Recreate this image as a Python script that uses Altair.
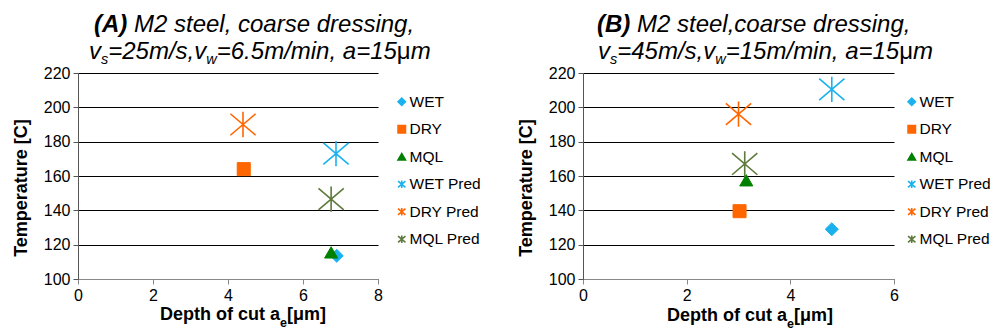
import altair as alt
import pandas as pd

FONT = "Liberation Sans"

SERIES = ["WET", "DRY", "MQL", "WET Pred", "DRY Pred", "MQL Pred"]
STROKES = ["#1AB2EE", "#FF6600", "#008000", "#1AB2EE", "#FF6600", "#5E7A3C"]
FILLS = ["#1AB2EE", "#FF6600", "#008000", "transparent", "transparent", "transparent"]
ASTER = "M0,-1L0,1M-1,-0.85L1,0.85M-1,0.85L1,-0.85"
SHAPES = ["diamond", "square", "triangle-up", ASTER, ASTER, ASTER]

# Panel A values
A_X = [6.9, 4.42, 6.75, 6.88, 4.4, 6.75]
A_Y = [113.5, 164, 115.5, 173, 190, 146.5]
# Panel B values
B_X = [4.8, 3.02, 3.15, 4.8, 3.0, 3.12]
B_Y = [129, 139.5, 157.5, 210.5, 196, 167]

A_XTICKS = [0, 2, 4, 6, 8]
B_XTICKS = [0, 2, 4, 6]
Y_TICKS = [100, 120, 140, 160, 180, 200, 220]

# Arial / Liberation Sans advance widths (1/1000 em)
REG = {' ': 278, '(': 333, ')': 333, ',': 278, '.': 278, '/': 278, '=': 584,
       'A': 667, 'B': 667, 'M': 833, 'a': 556, 'c': 500, 'd': 556, 'e': 556,
       'g': 556, 'i': 222, 'l': 222, 'm': 833, 'n': 556, 'o': 556, 'r': 333,
       's': 500, 't': 278, 'v': 500, 'w': 722, 'μ': 576}
BOLD = {' ': 278, '(': 333, ')': 333, 'A': 722, 'B': 722, 'D': 722, 'e': 556,
        'p': 611, 't': 333, 'h': 611, 'o': 611, 'f': 333, 'c': 556, 'u': 611,
        'a': 556, '[': 333, ']': 333, 'μ': 611, 'm': 889}


def text_width(s, size, weight):
    table = BOLD if weight == "bold" else REG
    return sum(table.get(ch, 556) for ch in s) * size / 1000.0


def seg_layers(segs, x0, y0):
    layers = []
    x = x0
    for text, size, weight, style, dy in segs:
        lead = len(text) - len(text.lstrip(" "))
        if lead:
            x += text_width(" " * lead, size, weight)
            text = text.lstrip(" ")
        df = pd.DataFrame({"t": [text]})
        layers.append(
            alt.Chart(df).mark_text(
                align="left", baseline="alphabetic", font=FONT, fontSize=size,
                fontWeight=weight, fontStyle=style, color="black"
            ).encode(text="t:N", x=alt.value(x), y=alt.value(y0 + dy))
        )
        x += text_width(text, size, weight)
    return layers


def title_segs(letter, line1, speed_s, speed_w):
    l1 = [(f"({letter})", 24, "bold", "italic", 0), (line1, 24, "normal", "italic", 0)]
    l2 = [("v", 24, "normal", "italic", 0), ("s", 14.5, "normal", "italic", 5),
          (f"={speed_s}m/s,v", 24, "normal", "italic", 0), ("w", 14.5, "normal", "italic", 5),
          (f"={speed_w}m/min, a=15", 24, "normal", "italic", 0),
          ("μ", 24, "normal", "normal", 0), ("m", 24, "normal", "italic", 0)]
    return l1, l2


XT = [("Depth of cut a", 18, "bold", "normal", 0), ("e", 12.5, "bold", "normal", 7),
      ("[μm]", 18, "bold", "normal", 0)]


def panel(xs, ys, xmax, xticks, width, letter, line1, vs, vw, t1x, t2x, xtx, xty, legx):
    df = pd.DataFrame({"x": xs, "y": ys, "series": SERIES})
    legend = alt.Legend(orient="none", legendX=legx, legendY=21, title=None,
                        labelFont=FONT, labelFontSize=15.5, labelColor="black",
                        symbolSize=55, symbolStrokeWidth=1.6, rowPadding=10.5,
                        labelOffset=0, padding=0)
    base = alt.Chart(df).encode(
        x=alt.X("x:Q", scale=alt.Scale(domain=[0, xmax], nice=False),
                axis=alt.Axis(values=xticks, title=None, grid=False, labelFont=FONT,
                              labelFontSize=16, labelColor="black", tickSize=5,
                              tickColor="#888", domainColor="#888", labelPadding=3,
                              labelFlush=False)),
        y=alt.Y("y:Q", scale=alt.Scale(domain=[100, 220], nice=False),
                axis=alt.Axis(values=Y_TICKS, title=None, grid=True, gridColor="black",
                              gridWidth=1, labelFont=FONT, labelFontSize=16,
                              labelColor="black", tickSize=5, tickColor="#555",
                              domainColor="#555", labelPadding=3)),
        shape=alt.Shape("series:N", scale=alt.Scale(domain=SERIES, range=SHAPES), legend=legend),
        stroke=alt.Stroke("series:N", scale=alt.Scale(domain=SERIES, range=STROKES), legend=legend),
        fill=alt.Fill("series:N", scale=alt.Scale(domain=SERIES, range=FILLS), legend=legend),
    )
    meas = base.transform_filter(alt.FieldOneOfPredicate(field="series", oneOf=SERIES[:3])) \
        .mark_point(size=170, strokeWidth=1, opacity=1)
    pred = base.transform_filter(alt.FieldOneOfPredicate(field="series", oneOf=SERIES[3:])) \
        .mark_point(size=640, strokeWidth=1.6, opacity=1)
    l1, l2 = title_segs(letter, line1, vs, vw)
    texts = seg_layers(l1, t1x, -41) + seg_layers(l2, t2x, -14) + seg_layers(XT, xtx, xty)
    ytitle = alt.Chart(pd.DataFrame({"t": ["Temperature [C]"]})).mark_text(
        angle=270, align="center", baseline="middle", font=FONT, fontSize=18,
        fontWeight="bold", color="black"
    ).encode(text="t:N", x=alt.value(-56), y=alt.value(115))
    return alt.layer(meas, pred, ytitle, *texts).properties(width=width, height=206)


pa = panel(A_X, A_Y, 8, A_XTICKS, 300, "A", " M2 steel, coarse dressing,", "25", "6.5",
           16, 11, 82, 247, 316)
pb = panel(B_X, B_Y, 6, B_XTICKS, 311, "B", " M2 steel,coarse dressing,", "45", "15",
           14, 15, 84, 248, 321)

chart = alt.hconcat(pa, pb, spacing=37).resolve_scale(
    shape="independent", stroke="independent", fill="independent"
).resolve_legend(
    shape="independent", stroke="independent", fill="independent"
).configure_view(stroke=None).properties(
    padding={"left": 5, "top": 5, "right": 0, "bottom": 0}
)

chart.save("out.html", embed_options={"renderer": "svg", "actions": False})
